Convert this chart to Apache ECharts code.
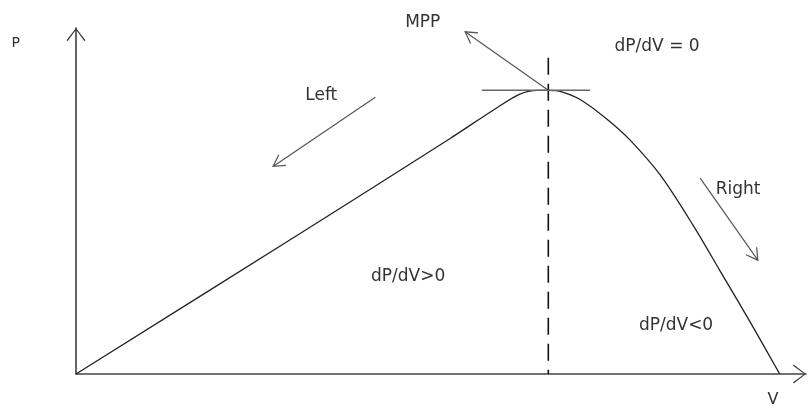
<!DOCTYPE html>
<html>
<head>
<meta charset="utf-8">
<script src="https://cdn.jsdelivr.net/npm/echarts@6/dist/echarts.min.js"></script>
<style>
  html, body { margin: 0; padding: 0; background: #fff; }
  #main { width: 810px; height: 408px; }
</style>
</head>
<body>
<div id="main"></div>
<script>
  // P-V curve, arbitrary units (V 0..100, P 0..100)
  const curveV = [0, 30.7, 51.2, 57.4, 60.8, 63.2, 64.7, 66.3, 69.0, 72.7, 75.9, 80.0, 84.5, 88.2, 92.3, 96.4];
  const curveP = [0, 40.6, 68, 76.6, 80.9, 82, 82, 81.7, 79.4, 73.7, 67.6, 57.6, 43.1, 29.9, 15.2, 0];

  // maximum power point
  const mppV = 64.7;
  const mppP = 82;
  const dashTop = 91.4;
  const tangentV = [55.6, 70.4];

  // arrows: [fromV, fromP, toV, toP]
  const arrowMpp = [64.7, 82, 53.3, 98.9];
  const arrowLeft = [41, 80, 27, 60];
  const arrowRight = [85.5, 56.6, 93.4, 32.9];

  // annotation texts
  const noteText = ['MPP', 'dP/dV = 0', 'Left', 'Right', 'dP/dV>0', 'dP/dV<0'];
  const noteV = [47.5, 79.6, 33.6, 90.7, 45.5, 82.2];
  const noteP = [101.7, 94.6, 80.6, 53.4, 28.3, 14];

  const chevron = 'path://M0,13 L10,0 L20,13 L18.8,13.8 L10,1.8 L1.2,13.8 Z';
  const font = '"DejaVu Sans", Verdana, sans-serif';

  let myChart = echarts.init(document.getElementById('main'));

  myChart.setOption({
    animation: false,
    grid: { left: 76, right: 4, top: 28, bottom: 30 },
    xAxis: {
      type: 'value',
      min: 0,
      max: 100,
      name: 'V',
      nameLocation: 'end',
      nameGap: -33,
      nameTextStyle: { color: '#333', fontFamily: font, fontSize: 16, align: 'center', verticalAlign: 'top', padding: [18, 0, 0, 0] },
      axisLine: { lineStyle: { color: '#444', width: 1.5 }, symbol: ['none', chevron], symbolSize: [20, 13], symbolOffset: [0, -6.5] },
      axisTick: { show: false },
      axisLabel: { show: false },
      splitLine: { show: false }
    },
    yAxis: {
      type: 'value',
      min: 0,
      max: 100,
      name: 'P',
      nameLocation: 'end',
      nameGap: -22,
      nameTextStyle: { color: '#333', fontFamily: font, fontSize: 14, align: 'right', verticalAlign: 'bottom', padding: [0, 56, 0, 0] },
      axisLine: { lineStyle: { color: '#333', width: 1.5 }, symbol: ['none', chevron], symbolSize: [20, 13], symbolOffset: [0, -6.5] },
      axisTick: { show: false },
      axisLabel: { show: false },
      splitLine: { show: false }
    },
    series: [
      {
        name: 'P-V',
        type: 'line',
        data: curveV.map((v, i) => [v, curveP[i]]),
        smooth: 0.3,
        showSymbol: false,
        lineStyle: { color: '#222', width: 1.3 }
      },
      {
        name: 'mpp',
        type: 'line',
        data: [[mppV, dashTop], [mppV, 0]],
        showSymbol: false,
        lineStyle: { color: '#111', width: 1.6, type: [17, 9] }
      },
      {
        name: 'tangent',
        type: 'line',
        data: [[tangentV[0], mppP], [tangentV[1], mppP]],
        showSymbol: false,
        lineStyle: { color: '#666', width: 1.6 }
      },
      {
        name: 'arrows',
        type: 'custom',
        data: [arrowMpp, arrowLeft, arrowRight],
        renderItem: function (params, api) {
          let p1 = api.coord([api.value(0), api.value(1)]);
          let p2 = api.coord([api.value(2), api.value(3)]);
          let ang = Math.atan2(p1[1] - p2[1], p1[0] - p2[0]);
          let len = 13, spread = Math.PI / 6;
          let a = [p2[0] + len * Math.cos(ang + spread), p2[1] + len * Math.sin(ang + spread)];
          let b = [p2[0] + len * Math.cos(ang - spread), p2[1] + len * Math.sin(ang - spread)];
          let st = { stroke: '#555', lineWidth: 1.2, fill: null };
          return {
            type: 'group',
            children: [
              { type: 'polyline', shape: { points: [p1, p2] }, style: st },
              { type: 'polyline', shape: { points: [a, p2, b] }, style: st }
            ]
          };
        }
      },
      {
        name: 'notes',
        type: 'custom',
        data: noteV.map((v, i) => [v, noteP[i]]),
        renderItem: function (params, api) {
          let p = api.coord([api.value(0), api.value(1)]);
          return {
            type: 'text',
            x: p[0],
            y: p[1],
            style: {
              text: noteText[params.dataIndex],
              fill: '#333',
              font: '17px ' + font,
              align: 'center',
              verticalAlign: 'middle'
            }
          };
        }
      }
    ]
  });
</script>
</body>
</html>
